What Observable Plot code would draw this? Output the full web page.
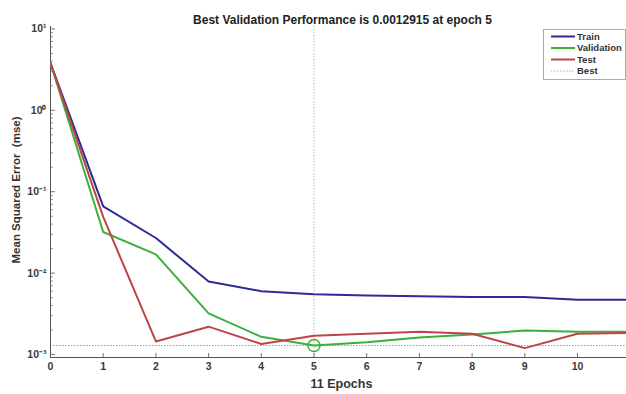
<!DOCTYPE html>
<html>
<head>
<meta charset="utf-8">
<script src="https://cdn.jsdelivr.net/npm/d3@7"></script>
<script src="https://cdn.jsdelivr.net/npm/@observablehq/plot@0.6"></script>
<style>
  html, body { margin: 0; padding: 0; background: #fff; }
  #wrap { position: relative; width: 626px; height: 394px; font-family: "Liberation Sans", Arial, sans-serif; }
  #legend { position: absolute; left: 543px; top: 29px; }
</style>
</head>
<body>
<div id="wrap"><div id="chart"></div><div id="legend"></div></div>
<script>
// Training record: mean squared error per epoch
const epochs = [0, 1, 2, 3, 4, 5, 6, 7, 8, 9, 10, 11];
const train = [3.8, 0.066, 0.027, 0.0079, 0.006, 0.0055, 0.0053, 0.0052, 0.0051, 0.0051, 0.0047, 0.0047];
const validation = [3.8, 0.032, 0.017, 0.0032, 0.00165, 0.0012915, 0.00142, 0.00162, 0.00176, 0.00197, 0.0019, 0.0019];
const test = [3.8, 0.049, 0.00145, 0.0022, 0.00135, 0.0017, 0.0018, 0.0019, 0.0018, 0.0012, 0.0018, 0.00185];

const bestEpoch = 5;
const bestPerf = 0.0012915;

const seriesNames = ["Train", "Validation", "Test"];
const seriesColors = ["#2c2c96", "#3cb03c", "#bf4444"];
const seriesValues = [train, validation, test];

const xTicks = [0, 1, 2, 3, 4, 5, 6, 7, 8, 9, 10];
const yMajor = [1e-3, 1e-2, 1e-1, 1e0, 1e1];
const yMinor = d3.range(-3, 1).flatMap(k => d3.range(2, 10).map(m => m * 10 ** k));

const rows = seriesNames.flatMap((name, i) =>
  epochs.map((e, j) => ({series: name, epoch: e, mse: seriesValues[i][j]})));

const sup = {"-": "\u207B", "0": "\u2070", "1": "\u00B9", "2": "\u00B2", "3": "\u00B3"};
const pow10 = d => "10" + String(Math.round(Math.log10(d))).split("").map(c => sup[c]).join("");

const axisColor = "#3a3a3a";
const font = "bold 10.5px 'Liberation Sans', Arial, sans-serif";

const chart = Plot.plot({
  width: 626,
  height: 394,
  marginLeft: 50,
  marginRight: 0,
  marginTop: 26,
  marginBottom: 37,
  style: {font, color: axisColor, background: "#fff"},
  x: {domain: [0, 10.93]},
  y: {type: "log", domain: [0.00092, 10.7]},
  color: {domain: seriesNames, range: seriesColors},
  marks: [
    // best epoch guides
    Plot.ruleX([bestEpoch], {stroke: "#b8b8b8", strokeWidth: 1, strokeDasharray: "1.5,1.5"}),
    Plot.ruleY([bestPerf], {stroke: "#9a9a9a", strokeWidth: 1, strokeDasharray: "1.5,1.5"}),
    // axes (ticks point inward)
    Plot.axisX({ticks: xTicks, tickSize: -4, tickPadding: 9, tickFormat: d => String(d), stroke: "#777", label: null}),
    Plot.axisY({ticks: yMinor, tickSize: -3, text: null, stroke: "#999", label: null}),
    Plot.axisY({ticks: yMajor, tickSize: -5, tickPadding: 9, tickFormat: pow10, stroke: "#777", label: null}),
    Plot.frame({anchor: "left", stroke: "#555"}),
    Plot.frame({anchor: "bottom", stroke: "#555"}),
    // axis titles
    Plot.text(["11 Epochs"], {frameAnchor: "bottom", lineAnchor: "middle", dy: 26, dx: 3, fontSize: 12.5, fontWeight: "bold", fill: "#333"}),
    Plot.text(["Mean Squared Error  (mse)"], {frameAnchor: "left", textAnchor: "middle", lineAnchor: "middle",
      dx: -34, dy: -2, rotate: -90, fontSize: 11.5, fontWeight: "bold", fill: "#333"}),
    // performance curves
    Plot.line(rows, {x: "epoch", y: "mse", z: "series", stroke: "series", strokeWidth: 2, clip: true}),
    Plot.dot([{epoch: bestEpoch, mse: bestPerf}], {x: "epoch", y: "mse", r: 6, stroke: seriesColors[1], strokeWidth: 1.5, fill: "none"}),
    // title
    Plot.text([`Best Validation Performance is ${bestPerf} at epoch ${bestEpoch}`], {
      frameAnchor: "top", dy: -11, dx: 4, fontSize: 12, fontWeight: "bold", fill: "#222"
    })
  ]
});
document.getElementById("chart").append(chart);

// legend box
const entries = [...seriesNames.map((n, i) => ({name: n, color: seriesColors[i], dash: null})),
  {name: "Best", color: "#b0b0b0", dash: "1.5,1.5"}];
const lg = d3.select("#legend").append("svg").attr("width", 83).attr("height", 51);
lg.append("rect").attr("x", 0.5).attr("y", 0.5).attr("width", 82).attr("height", 50)
  .attr("fill", "#fff").attr("stroke", "#aaa");
const g = lg.selectAll("g").data(entries).join("g")
  .attr("transform", (d, i) => `translate(0,${7.5 + i * 11.5})`);
g.append("line").attr("x1", 8).attr("x2", 32).attr("stroke", d => d.color)
  .attr("stroke-width", d => d.dash ? 1 : 2).attr("stroke-dasharray", d => d.dash);
g.append("text").attr("x", 34).attr("dy", "0.35em").text(d => d.name)
  .style("font", "bold 9.5px 'Liberation Sans', Arial, sans-serif").attr("fill", "#333");
</script>
</body>
</html>
